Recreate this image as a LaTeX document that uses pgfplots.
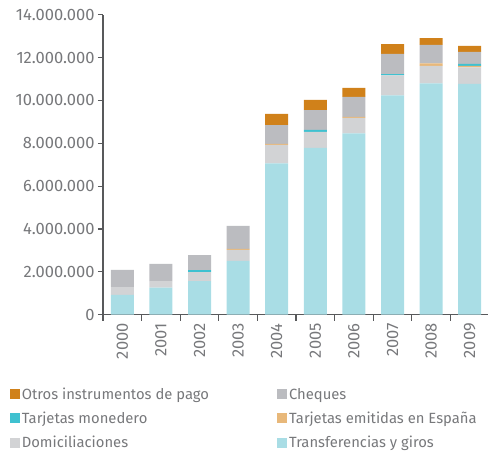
\documentclass[border=0pt]{standalone}
\usepackage{pgfplots}
\pgfplotsset{compat=1.18}
\usepackage{fontspec}
\setmainfont{Fira Sans}
\definecolor{cOtros}{HTML}{D0811A}
\definecolor{cCheques}{HTML}{BBBCC0}
\definecolor{cMonedero}{HTML}{3FC1D0}
\definecolor{cEmitidas}{HTML}{E8B87A}
\definecolor{cDomic}{HTML}{D2D3D5}
\definecolor{cTransf}{HTML}{A9DDE5}
\definecolor{txt}{HTML}{77787B}
\definecolor{axl}{HTML}{58595B}
\begin{document}
\begin{tikzpicture}
\useasboundingbox (0,0) rectangle (488pt,453pt);
\begin{axis}[
  at={(103pt,138.3pt)}, anchor=south west,
  width=386pt, height=300pt, scale only axis,
  xmin=-0.5, xmax=9.5, ymin=0, ymax=14000000,
  ybar stacked, bar width=23pt,
  axis x line*=bottom, axis y line*=left,
  axis line style={axl, line width=1.2pt},
  ytick={0,2000000,4000000,6000000,8000000,10000000,12000000,14000000},
  scaled y ticks=false,
  /pgf/number format/assume math mode=true,
  /pgf/number format/fixed,
  /pgf/number format/1000 sep={.},
  tick label style={font=\fontsize{16.5}{19}\selectfont, text=txt},
  xtick={0,...,9},
  xticklabels={2000,2001,2002,2003,2004,2005,2006,2007,2008,2009},
  xticklabel style={rotate=90, anchor=east},
  major x tick style={draw=none},
  minor xtick={-0.5,0.5,1.5,2.5,3.5,4.5,5.5,6.5,7.5,8.5,9.5},
  tick align=outside, major tick length=5pt, minor tick length=6pt,
  tick style={axl, line width=1.2pt},
  legend columns=2, reverse legend,
  legend cell align=left,
  legend style={at={(-0.242,-0.23)}, anchor=north west, draw=none, fill=none,
    font=\fontsize{14.8}{18}\selectfont, text=txt, inner xsep=0pt,
    /tikz/every even column/.append style={column sep=66pt}, row sep=7pt},
  legend image code/.code={\fill[#1] (0pt,-5pt) rectangle (10pt,5pt);},
]
\addplot[fill=cTransf, draw=none] coordinates {(0,920000) (1,1260000) (2,1570000) (3,2510000) (4,7060000) (5,7780000) (6,8460000) (7,10240000) (8,10800000) (9,10770000)};
\addplot[fill=cDomic, draw=none] coordinates {(0,370000) (1,310000) (2,420000) (3,510000) (4,860000) (5,750000) (6,720000) (7,930000) (8,810000) (9,770000)};
\addplot[fill=cEmitidas, draw=none] coordinates {(0,0) (1,0) (2,0) (3,50000) (4,50000) (5,0) (6,50000) (7,0) (8,120000) (9,70000)};
\addplot[fill=cMonedero, draw=none] coordinates {(0,0) (1,0) (2,90000) (3,0) (4,0) (5,90000) (6,0) (7,60000) (8,0) (9,90000)};
\addplot[fill=cCheques, draw=none] coordinates {(0,800000) (1,800000) (2,700000) (3,1070000) (4,880000) (5,930000) (6,930000) (7,940000) (8,860000) (9,560000)};
\addplot[fill=cOtros, draw=none] coordinates {(0,0) (1,0) (2,0) (3,0) (4,520000) (5,470000) (6,420000) (7,460000) (8,320000) (9,280000)};
\legend{Transferencias y giros, Domiciliaciones, Tarjetas emitidas en España, Tarjetas monedero, Cheques, Otros instrumentos de pago}
\end{axis}
\end{tikzpicture}
\end{document}
